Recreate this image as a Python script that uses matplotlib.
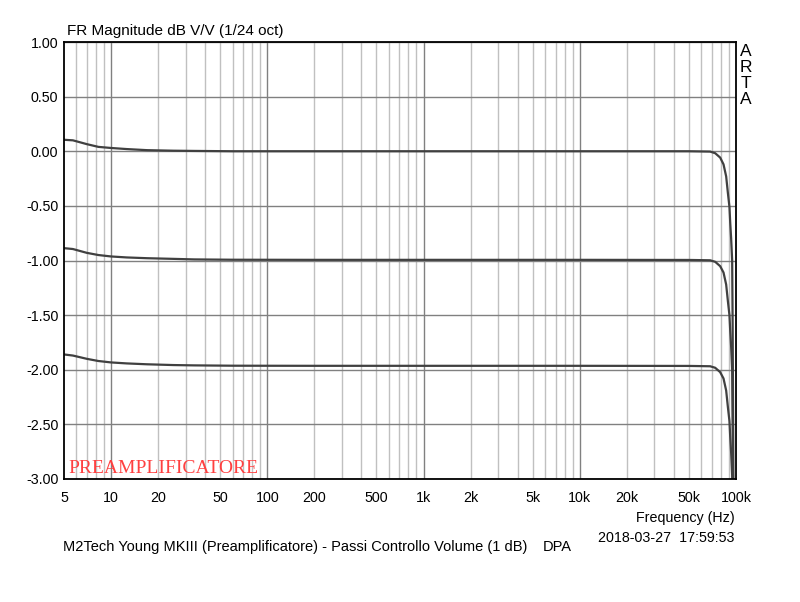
import matplotlib
matplotlib.use("Agg")
import matplotlib.pyplot as plt
from matplotlib.ticker import FixedLocator, NullFormatter, NullLocator

plt.rcParams['font.family'] = ['Liberation Sans', 'DejaVu Sans']

# ---- data ----
freq_hz = [5, 5.7, 7, 8.3, 10, 12.6, 17, 25, 34, 60, 200, 1000, 10000, 50000,
           68300, 73600, 79200, 83200, 86500, 88700, 90800, 91800, 93100,
           94500, 95200, 95800, 96500]
level_0db = [0.105, 0.100, 0.065, 0.040, 0.030, 0.020, 0.010, 0.005, 0.003, 0.0,
             0.0, 0.0, 0.0, 0.0, -0.003, -0.018, -0.058, -0.12, -0.23, -0.38,
             -0.51, -0.65, -0.80, -1.00, -1.60, -2.40, -3.30]
level_1db = [-0.887, -0.895, -0.930, -0.950, -0.963, -0.972, -0.979, -0.985, -0.990,
             -0.993, -0.994, -0.994, -0.994, -0.995, -0.998, -1.012, -1.052, -1.11,
             -1.22, -1.37, -1.50, -1.64, -1.79, -2.00, -2.60, -3.20, -3.60]
level_2db = [-1.860, -1.870, -1.900, -1.920, -1.933, -1.942, -1.950, -1.957, -1.960,
             -1.963, -1.964, -1.964, -1.964, -1.965, -1.968, -1.982, -2.022, -2.08,
             -2.19, -2.34, -2.47, -2.61, -2.76, -2.97, -3.30, -3.60, -3.90]

x_ticks = [5, 10, 20, 50, 100, 200, 500, 1000, 2000, 5000, 10000, 20000, 50000, 100000]
x_tick_labels = ['5', '10', '20', '50', '100', '200', '500', '1k', '2k', '5k',
                 '10k', '20k', '50k', '100k']
y_ticks = [1.0, 0.5, 0.0, -0.5, -1.0, -1.5, -2.0, -2.5, -3.0]
y_tick_labels = ['1.00', '0.50', '0.00', '-0.50', '-1.00', '-1.50', '-2.00', '-2.50', '-3.00']
decades = [10, 100, 1000, 10000]
minor_lines = [m * d for d in [1, 10, 100, 1000, 10000] for m in range(2, 10)
               if 5 < m * d < 100000 and m * d not in decades]

fig = plt.figure(figsize=(8.0, 6.02), dpi=100)
ax = fig.add_axes([64 / 800, 1 - 479 / 602, (736 - 64) / 800, (479 - 42) / 602])
ax.set_xscale('log')
ax.set_xlim(5, 100000)
ax.set_ylim(-3.0, 1.0)

for f in minor_lines:
    ax.axvline(f, color='#c0c0c0', lw=1.0, zorder=1)
for f in decades:
    ax.axvline(f, color='#808080', lw=1.0, zorder=1.5)
for y in y_ticks:
    ax.axhline(y, color='#808080', lw=1.0, zorder=1.5)

for series in (level_0db, level_1db, level_2db):
    ax.plot(freq_hz, series, color='#404040', lw=1.6, zorder=3, solid_joinstyle='round')

ax.xaxis.set_major_locator(FixedLocator(x_ticks))
ax.set_xticklabels(x_tick_labels)
ax.xaxis.set_minor_locator(NullLocator())
ax.xaxis.set_minor_formatter(NullFormatter())
ax.set_yticks(y_ticks)
ax.set_yticklabels(y_tick_labels)
ax.tick_params(axis='both', length=0, labelsize=10.3, colors='black')
ax.tick_params(axis='x', pad=9)
ax.tick_params(axis='y', pad=4)
for s in ax.spines.values():
    s.set_color('black')
    s.set_linewidth(1.3)
    s.set_zorder(5)

fig.text(67 / 800, 1 - 31 / 602, 'FR Magnitude dB V/V (1/24 oct)', fontsize=11,
         ha='left', va='center')
for letter, yy in zip('ARTA', [51, 67, 83, 99]):
    fig.text(746 / 800, 1 - yy / 602, letter, fontsize=12.5, ha='center', va='center')
ax.text(0.006, 0.014, 'PREAMPLIFICATORE', transform=ax.transAxes, fontsize=14,
        family='Liberation Serif', color='#ff4040', ha='left', va='baseline', zorder=6)
fig.text(735 / 800, 1 - 518 / 602, 'Frequency (Hz)', fontsize=10.3, ha='right', va='center')
fig.text(735 / 800, 1 - 538 / 602, '2018-03-27  17:59:53', fontsize=10.3, ha='right', va='center')
fig.text(63 / 800, 1 - 547 / 602,
         'M2Tech Young MKIII (Preamplificatore) - Passi Controllo Volume (1 dB)',
         fontsize=10.5, ha='left', va='center')
fig.text(543 / 800, 1 - 547 / 602, 'DPA', fontsize=10.5, ha='left', va='center')

fig.savefig('out.png', dpi=100, facecolor='white')
